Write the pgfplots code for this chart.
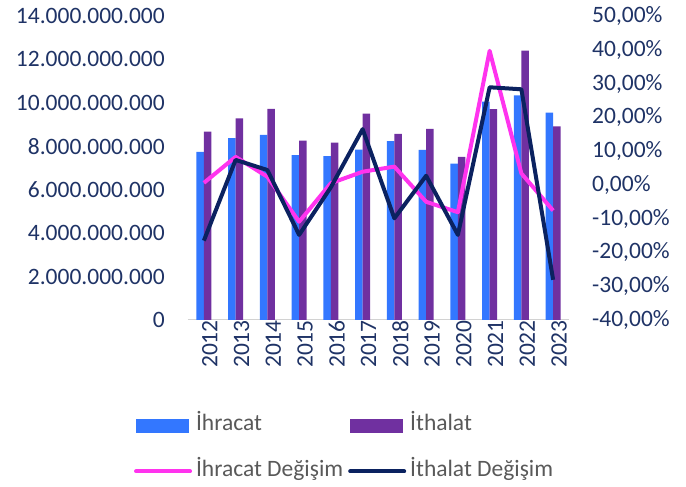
\documentclass[border=0pt]{standalone}
\usepackage{pgfplots}
\pgfplotsset{compat=1.18}
\usepackage{fontspec}
\setmainfont{Carlito}
\definecolor{ihr}{HTML}{3377FF}
\definecolor{ith}{HTML}{7030A0}
\definecolor{ihrd}{HTML}{FF33EE}
\definecolor{ithd}{HTML}{0B2260}
\definecolor{lab}{HTML}{1F3366}
\definecolor{leg}{HTML}{595959}
\begin{document}
\begin{tikzpicture}
\path[use as bounding box] (0pt,0pt) rectangle (686pt,487pt);
\begin{axis}[
  at={(188pt,167pt)}, anchor=south west, scale only axis,
  width=381pt, height=304pt,
  xmin=-0.5, xmax=11.5, ymin=0, ymax=14e9,
  scaled y ticks=false,
  axis y line*=left, axis x line*=bottom,
  y axis line style={draw=none},
  x axis line style={draw=gray!35, line width=1pt},
  major tick length=0pt,
  ybar=0pt, bar width=7.5pt,
  xtick={0,...,11},
  xticklabels={2012,2013,2014,2015,2016,2017,2018,2019,2020,2021,2022,2023},
  xticklabel style={rotate=90, anchor=east, inner sep=0pt, yshift=-6pt, font=\fontsize{23.5}{28}\selectfont, text=lab},
  ytick={0,2e9,4e9,6e9,8e9,10e9,12e9,14e9},
  yticklabels={0,2.000.000.000,4.000.000.000,6.000.000.000,8.000.000.000,10.000.000.000,12.000.000.000,14.000.000.000},
  yticklabel style={anchor=east, inner sep=0pt, xshift=-23pt, font=\fontsize{23.5}{28}\selectfont, text=lab},
]
\addplot[fill=ihr, draw=none] coordinates {(0,7.74e9) (1,8.37e9) (2,8.52e9) (3,7.59e9) (4,7.55e9) (5,7.85e9) (6,8.24e9) (7,7.83e9) (8,7.20e9) (9,10.06e9) (10,10.35e9) (11,9.55e9)};
\addplot[fill=ith, draw=none] coordinates {(0,8.67e9) (1,9.29e9) (2,9.72e9) (3,8.26e9) (4,8.17e9) (5,9.50e9) (6,8.57e9) (7,8.80e9) (8,7.51e9) (9,9.71e9) (10,12.41e9) (11,8.92e9)};
\end{axis}
\begin{axis}[
  at={(188pt,167pt)}, anchor=south west, scale only axis,
  width=381pt, height=304pt,
  xmin=-0.5, xmax=11.5, ymin=-40, ymax=50,
  hide x axis,
  axis y line*=right,
  y axis line style={draw=none},
  major tick length=0pt,
  ytick={-40,-30,...,50},
  yticklabels={-40{,}00\%,-30{,}00\%,-20{,}00\%,-10{,}00\%,0{,}00\%,10{,}00\%,20{,}00\%,30{,}00\%,40{,}00\%,50{,}00\%},
  yticklabel style={anchor=west, inner sep=0pt, xshift=23pt, font=\fontsize{23.5}{28}\selectfont, text=lab},
  legend columns=2,
  legend cell align=left,
  legend style={draw=none, fill=none, at={(-0.15,-0.305)}, anchor=north west,
    font=\fontsize{23.5}{28}\selectfont, text=leg,
    nodes={inner sep=0pt, text height=16pt, text depth=5pt},
    row sep=25pt,
    /tikz/every odd column/.append style={column sep=4pt},
    /tikz/every even column/.append style={column sep=5pt}},
]
\addlegendimage{legend image code/.code={\fill[ihr] (0pt,-6.5pt) rectangle (52pt,6.5pt);}}
\addlegendentry{İhracat}
\addlegendimage{legend image code/.code={\fill[ith] (0pt,-6.5pt) rectangle (52pt,6.5pt);}}
\addlegendentry{İthalat}
\addplot[color=ihrd, line width=4pt, line join=round, legend image code/.code={\draw[ihrd, line width=4pt, line cap=round] (0pt,0pt) -- (54pt,0pt);}] coordinates {(0,0.6) (1,8.3) (2,2.4) (3,-10.9) (4,0.5) (5,3.9) (6,5.4) (7,-5.0) (8,-8.1) (9,39.7) (10,3.4) (11,-7.6)};
\addlegendentry{İhracat Değişim}
\addplot[color=ithd, line width=4pt, line join=round, legend image code/.code={\draw[ithd, line width=4pt, line cap=round] (0pt,0pt) -- (54pt,0pt);}] coordinates {(0,-16.5) (1,7.4) (2,4.4) (3,-14.8) (4,-0.7) (5,16.5) (6,-9.9) (7,2.7) (8,-14.8) (9,28.9) (10,28.3) (11,-28.1)};
\addlegendentry{İthalat Değişim}
\end{axis}
\end{tikzpicture}
\end{document}
